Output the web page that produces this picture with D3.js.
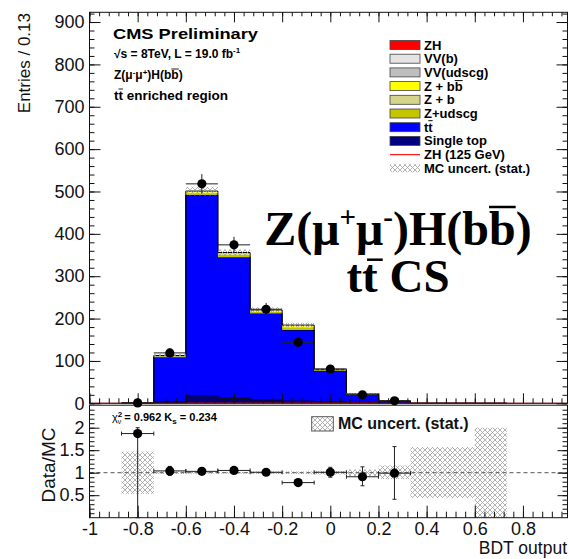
<!DOCTYPE html>
<html>
<head>
<meta charset="utf-8">
<script src="https://cdn.jsdelivr.net/npm/d3@7"></script>
<style>
  body { margin: 0; background: #fff; }
  svg { display: block; font-family: "Liberation Sans", Arial, Helvetica, sans-serif; }
</style>
</head>
<body>
<svg id="chart" width="569" height="559"></svg>
<script>
// bin edges of the BDT output histogram (width 0.13)
const binEdges = [-1, -0.867, -0.733, -0.6, -0.467, -0.333, -0.2, -0.067, 0.067, 0.2, 0.333, 0.467, 0.6, 0.733, 0.867, 1];

// stacked MC, entries per bin
const singleTop = [0, 0.05, 3, 18, 12, 8, 5, 3, 1, 0.2, 0.02, 0.02, 0, 0, 0];
const ttbar     = [0, 0.4, 106, 474, 333, 204, 168, 74, 20, 5.3, 0.15, 0.15, 0.05, 0, 0];
const zUdscg    = [0, 0.04, 2, 4, 5, 3.5, 5, 1.5, 0.5, 0.1, 0, 0, 0, 0, 0];
const zB        = [0, 0.02, 1, 1.5, 2, 1.5, 2.5, 0.8, 0.2, 0.1, 0, 0, 0, 0, 0];
const zBB       = [0, 0.02, 0.5, 2.5, 3, 2.5, 3.5, 0.7, 0.3, 0.1, 0, 0, 0, 0, 0];
const vvUdscg   = [0, 0, 0.2, 0.8, 0.6, 0.4, 0.4, 0.2, 0.1, 0, 0, 0, 0, 0, 0];
const vvB       = [0, 0, 0.05, 0.1, 0.1, 0.1, 0.1, 0.05, 0, 0, 0, 0, 0, 0, 0];
const zhFill    = [0, 0, 0.02, 0.1, 0.15, 0.15, 0.2, 0.1, 0.05, 0, 0, 0, 0, 0, 0];
const zh125     = [0, 0, 0.05, 0.2, 0.3, 0.3, 0.4, 0.2, 0.1, 0.05, 0.02, 0.02, 0.01, 0, 0];

// data
const dataCounts = [null, 1, 119, 518, 374, 222, 144, 81, 20, 6, null, null, null, null, null];
const dataErr    = [null, 1, 11, 23, 19, 15, 12, 9, 4.5, 2.5, null, null, null, null, null];

// ratio panel
const ratioVals  = [null, 1.87, 1.04, 1.03, 1.05, 1.01, 0.78, 1.01, 0.91, 0.99, null, null, null, null, null];
const ratioErrLo = [null, 1.87, 0.10, 0.05, 0.06, 0.07, 0.07, 0.11, 0.20, 0.58, null, null, null, null, null];
const ratioErrHi = [null, 0.13, 0.10, 0.05, 0.06, 0.07, 0.07, 0.11, 0.22, 0.59, null, null, null, null, null];
const mcBandLo   = [null, 0.53, 0.97, 0.98, 0.98, 0.97, 0.97, 0.96, 0.93, 0.86, 0.44, 0.44, 0.0, null, null];
const mcBandHi   = [null, 1.47, 1.03, 1.02, 1.02, 1.03, 1.03, 1.04, 1.07, 1.16, 1.57, 1.57, 2.0, null, null];

// axes
const xDomain = [-1, 0.985];
const xTicks = [-1, -0.8, -0.6, -0.4, -0.2, 0, 0.2, 0.4, 0.6, 0.8];
const xTickLabels = ['-1', '-0.8', '-0.6', '-0.4', '-0.2', '0', '0.2', '0.4', '0.6', '0.8'];
const yTopTicks = [0, 100, 200, 300, 400, 500, 600, 700, 800, 900];
const yRatTicks = [0.5, 1, 1.5, 2];
const yRatLabels = ['0.5', '1', '1.5', '2'];

const legendLabels = ['ZH', 'VV(b)', 'VV(udscg)', 'Z + bb', 'Z + b', 'Z+udscg', 'tt', 'Single top', 'ZH (125 GeV)', 'MC uncert. (stat.)'];

const layerKeys = ['singleTop', 'ttbar', 'zUdscg', 'zB', 'zBB', 'vvUdscg', 'vvB', 'zhFill'];
const layerSeries = { singleTop, ttbar, zUdscg, zB, zBB, vvUdscg, vvB, zhFill };
const colors = {
    singleTop: '#000080', ttbar: '#0000ff', zUdscg: '#c4c400', zB: '#d4d48a',
    zBB: '#ffff00', vvUdscg: '#bebebe', vvB: '#e4e4e4', zhFill: '#ff0000'
};

const svg = d3.select('#chart');
const left = 89.5, right = 567.5;
const x = d3.scaleLinear().domain(xDomain).range([left, right]);
const yTop = d3.scaleLinear().domain([0, 923]).range([403.3, 12.3]);
const yRat = d3.scaleLinear().domain([0, 2.5]).range([517.7, 405.2]);

const defs = svg.append('defs');
const pat = defs.append('pattern').attr('id', 'hatch')
    .attr('patternUnits', 'userSpaceOnUse').attr('width', 5).attr('height', 5);
pat.append('path')
    .attr('d', 'M0,0L5,5M5,0L0,5M-1,4L1,6M4,-1L6,1M-1,1L1,-1M4,6L6,4')
    .attr('stroke', '#a0a0a0').attr('stroke-width', 0.8).attr('fill', 'none');
defs.append('clipPath').attr('id', 'clipTop').append('rect')
    .attr('x', left).attr('y', yTop.range()[1]).attr('width', right - left).attr('height', yTop.range()[0] - yTop.range()[1]);
defs.append('clipPath').attr('id', 'clipRat').append('rect')
    .attr('x', left).attr('y', yRat.range()[1]).attr('width', right - left).attr('height', yRat.range()[0] - yRat.range()[1]);

// ---- upper panel: stacked histograms ----
const table = binEdges.slice(0, -1).map((e, i) => {
    const row = { i, x0: e, x1: binEdges[i + 1] };
    layerKeys.forEach(k => row[k] = layerSeries[k][i]);
    return row;
});
const totals = table.map(r => d3.sum(layerKeys, k => r[k]));
const stacked = d3.stack().keys(layerKeys)(table);

const gTop = svg.append('g').attr('clip-path', 'url(#clipTop)');

function stepPoints(layer) {
    const pts = [];
    layer.forEach((d, i) => {
        if (totals[i] <= 0) return;
        pts.push({ x: d.data.x0, lo: d[0], hi: d[1] });
        pts.push({ x: d.data.x1, lo: d[0], hi: d[1] });
    });
    return pts;
}
const area = d3.area().x(d => x(d.x)).y0(d => yTop(d.lo)).y1(d => yTop(d.hi));

stacked.forEach(layer => {
    gTop.append('path')
        .datum(stepPoints(layer))
        .attr('d', area)
        .attr('fill', colors[layer.key])
        .attr('stroke', layer.key === 'ttbar' ? '#000' : 'none')
        .attr('stroke-width', 1);
});

// outline of the full stack
const topLayer = stacked[stacked.length - 1];
const outline = stepPoints(topLayer);
gTop.append('path')
    .attr('d', d3.line().x(d => x(d.x)).y(d => yTop(d.hi))(
        [{ x: outline[0].x, hi: 0 }, ...outline, { x: outline[outline.length - 1].x, hi: 0 }]))
    .attr('fill', 'none').attr('stroke', '#000').attr('stroke-width', 1);

// MC stat uncertainty on the stack
gTop.append('g').selectAll('rect')
    .data(table.filter(r => mcBandLo[r.i] != null && totals[r.i] > 0))
    .join('rect')
    .attr('x', r => x(r.x0))
    .attr('width', r => x(r.x1) - x(r.x0))
    .attr('y', r => yTop(totals[r.i] * mcBandHi[r.i]))
    .attr('height', r => yTop(totals[r.i] * mcBandLo[r.i]) - yTop(totals[r.i] * mcBandHi[r.i]))
    .attr('fill', 'url(#hatch)');

// ZH (125 GeV) signal line
const zhPts = [];
table.forEach(r => { zhPts.push([r.x0, zh125[r.i]]); zhPts.push([r.x1, zh125[r.i]]); });
gTop.append('path')
    .attr('d', d3.line().x(d => x(d[0])).y(d => yTop(d[1]))(zhPts))
    .attr('fill', 'none').attr('stroke', '#e00000').attr('stroke-width', 1.3);

// ---- ratio panel ----
const gRat = svg.append('g').attr('clip-path', 'url(#clipRat)');
gRat.append('g').selectAll('rect')
    .data(table.filter(r => mcBandLo[r.i] != null))
    .join('rect')
    .attr('x', r => x(r.x0))
    .attr('width', r => x(r.x1) - x(r.x0))
    .attr('y', r => yRat(mcBandHi[r.i]))
    .attr('height', r => yRat(mcBandLo[r.i]) - yRat(mcBandHi[r.i]))
    .attr('fill', 'url(#hatch)');
gRat.append('line')
    .attr('x1', left).attr('x2', right).attr('y1', yRat(1)).attr('y2', yRat(1))
    .attr('stroke', '#555').attr('stroke-width', 1).attr('stroke-dasharray', '4,3');

// ---- axes ----
function addAxis(gen, tx, ty) {
    const g = svg.append('g').attr('transform', `translate(${tx},${ty})`).call(gen);
    g.select('.domain').remove();
    g.attr('font-size', 18).attr('font-family', '"Liberation Sans", Arial, sans-serif');
    g.selectAll('line').attr('stroke', '#111').attr('stroke-width', 1);
    g.selectAll('text').attr('fill', '#111');
    return g;
}
const none = () => '';
const xMinor = d3.range(-1, 0.99, 0.04);
const yTopMinor = d3.range(0, 921, 20);
const yRatMinor = d3.range(0.1, 2.5, 0.1);

// upper panel
addAxis(d3.axisLeft(yTop).tickValues(yTopTicks).tickFormat(d3.format('d')).tickSize(-11).tickPadding(5), left, 0);
addAxis(d3.axisLeft(yTop).tickValues(yTopMinor).tickFormat(none).tickSize(-5), left, 0);
addAxis(d3.axisRight(yTop).tickValues(yTopTicks).tickFormat(none).tickSize(-11), right, 0);
addAxis(d3.axisRight(yTop).tickValues(yTopMinor).tickFormat(none).tickSize(-5), right, 0);
addAxis(d3.axisTop(x).tickValues(xTicks).tickFormat(none).tickSize(-10), 0, yTop.range()[1]);
addAxis(d3.axisTop(x).tickValues(xMinor).tickFormat(none).tickSize(-4), 0, yTop.range()[1]);
addAxis(d3.axisBottom(x).tickValues(xTicks).tickFormat(none).tickSize(-10), 0, yTop.range()[0]);
addAxis(d3.axisBottom(x).tickValues(xMinor).tickFormat(none).tickSize(-5), 0, yTop.range()[0]);

// ratio panel
addAxis(d3.axisLeft(yRat).tickValues(yRatTicks).tickFormat((d, i) => yRatLabels[i]).tickSize(-10).tickPadding(5), left, 0);
addAxis(d3.axisLeft(yRat).tickValues(yRatMinor).tickFormat(none).tickSize(-5), left, 0);
addAxis(d3.axisRight(yRat).tickValues(yRatTicks).tickFormat(none).tickSize(-10), right, 0);
addAxis(d3.axisRight(yRat).tickValues(yRatMinor).tickFormat(none).tickSize(-5), right, 0);
addAxis(d3.axisBottom(x).tickValues(xTicks).tickFormat((d, i) => xTickLabels[i]).tickSize(-12).tickPadding(4.5), 0, yRat.range()[0]);
addAxis(d3.axisBottom(x).tickValues(xMinor).tickFormat(none).tickSize(-6), 0, yRat.range()[0]);

// frames
svg.append('rect').attr('x', left).attr('y', yTop.range()[1])
    .attr('width', right - left).attr('height', yTop.range()[0] - yTop.range()[1])
    .attr('fill', 'none').attr('stroke', '#111').attr('stroke-width', 1);
svg.append('rect').attr('x', left).attr('y', yRat.range()[1])
    .attr('width', right - left).attr('height', yRat.range()[0] - yRat.range()[1])
    .attr('fill', 'none').attr('stroke', '#111').attr('stroke-width', 1);

// ---- data points ----
const dataPts = table.filter(r => dataCounts[r.i] != null);
const gData = svg.append('g');
dataPts.forEach(r => {
    const cx = x((r.x0 + r.x1) / 2), cy = yTop(dataCounts[r.i]);
    gData.append('line').attr('x1', x(r.x0)).attr('x2', x(r.x1)).attr('y1', cy).attr('y2', cy)
        .attr('stroke', '#222').attr('stroke-width', 1);
    gData.append('line').attr('x1', cx).attr('x2', cx)
        .attr('y1', yTop(dataCounts[r.i] - dataErr[r.i])).attr('y2', yTop(dataCounts[r.i] + dataErr[r.i]))
        .attr('stroke', '#222').attr('stroke-width', 1);
    gData.append('circle').attr('cx', cx).attr('cy', cy).attr('r', 4.6).attr('fill', '#000');
});

const ratPts = table.filter(r => ratioVals[r.i] != null);
ratPts.forEach(r => {
    const cx = x((r.x0 + r.x1) / 2), cy = yRat(ratioVals[r.i]);
    const yl = yRat(ratioVals[r.i] - ratioErrLo[r.i]), yh = yRat(ratioVals[r.i] + ratioErrHi[r.i]);
    gData.append('line').attr('x1', x(r.x0)).attr('x2', x(r.x1)).attr('y1', cy).attr('y2', cy)
        .attr('stroke', '#222').attr('stroke-width', 1);
    [x(r.x0), x(r.x1)].forEach(ex => gData.append('line').attr('x1', ex).attr('x2', ex)
        .attr('y1', cy - 2).attr('y2', cy + 2).attr('stroke', '#222'));
    gData.append('line').attr('x1', cx).attr('x2', cx).attr('y1', yl).attr('y2', yh)
        .attr('stroke', '#222').attr('stroke-width', 1);
    [yl, yh].forEach(ey => gData.append('line').attr('x1', cx - 2).attr('x2', cx + 2)
        .attr('y1', ey).attr('y2', ey).attr('stroke', '#222'));
    gData.append('circle').attr('cx', cx).attr('cy', cy).attr('r', 4.6).attr('fill', '#000');
});

// ---- texts ----
function overline(textSel, idx, up, shift, size) {
    const node = textSel.node();
    const ext = node.getExtentOfChar(idx);
    const base = +textSel.attr('y');
    svg.append('line')
        .attr('x1', ext.x + (shift || 0)).attr('x2', ext.x + ext.width + (shift || 0))
        .attr('y1', base - up).attr('y2', base - up)
        .attr('stroke', '#000').attr('stroke-width', size || 1);
}

svg.append('text').attr('x', 113).attr('y', 38.5).attr('font-size', 14).attr('font-weight', 'bold')
    .attr('textLength', 145).attr('lengthAdjust', 'spacingAndGlyphs').text('CMS Preliminary');
const t2 = svg.append('text').attr('x', 114).attr('y', 58).attr('font-size', 12).attr('font-weight', 'bold');
t2.append('tspan').text('\u221As = 8TeV, L = 19.0 fb');
t2.append('tspan').attr('font-size', 8).attr('dy', -5).text('-1');
const t3 = svg.append('text').attr('x', 114).attr('y', 79).attr('font-size', 12).attr('font-weight', 'bold');
t3.append('tspan').text('Z(\u03BC');
t3.append('tspan').attr('font-size', 8).attr('dy', -4).text('-');
t3.append('tspan').attr('dy', 4).text('\u03BC');
t3.append('tspan').attr('font-size', 8).attr('dy', -4).text('+');
t3.append('tspan').attr('dy', 4).text(')H(bb)');
overline(t3, 10, 10, 0, 0.9);
const t4 = svg.append('text').attr('x', 114).attr('y', 100).attr('font-size', 13.5).attr('font-weight', 'bold')
    .text('tt enriched region');
overline(t4, 1, 11, 0, 0.9);

// big label
const serif = '"Liberation Serif", "Times New Roman", serif';
const big1 = svg.append('text').attr('x', 398).attr('y', 245).attr('text-anchor', 'middle')
    .attr('font-family', serif).attr('font-weight', 'bold').attr('font-size', 48);
big1.append('tspan').text('Z(\u03BC');
big1.append('tspan').attr('font-size', 29).attr('dy', -18).text('+');
big1.append('tspan').attr('dy', 18).text('\u03BC');
big1.append('tspan').attr('font-size', 29).attr('dy', -18).text('-');
big1.append('tspan').attr('dy', 18).text(')H(bb)');
overline(big1, 10, 38, 0, 2.5);
const big2 = svg.append('text').attr('x', 398).attr('y', 291.7).attr('text-anchor', 'middle')
    .attr('font-family', serif).attr('font-weight', 'bold').attr('font-size', 47)
    .text('tt CS');
overline(big2, 1, 32, 5, 2.5);

// legend
const legY0 = 45, legStep = 13.7;
const gLeg = svg.append('g');
legendLabels.forEach((lab, i) => {
    const cy = legY0 + i * legStep;
    if (i < 8) {
        gLeg.append('rect').attr('x', 390).attr('y', cy - 4.5).attr('width', 30).attr('height', 9)
            .attr('fill', colors[layerKeys[7 - i]]).attr('stroke', '#444').attr('stroke-width', 0.8);
    } else if (i === 8) {
        gLeg.append('line').attr('x1', 390).attr('x2', 420).attr('y1', cy).attr('y2', cy)
            .attr('stroke', '#ff2020').attr('stroke-width', 1.3);
    } else {
        gLeg.append('rect').attr('x', 390).attr('y', cy - 4).attr('width', 30).attr('height', 8)
            .attr('fill', 'url(#hatch)');
    }
    const t = gLeg.append('text').attr('x', 424).attr('y', cy + 4.5).attr('font-size', 13).attr('font-weight', 'bold').text(lab);
    if (lab === 'Z + bb') overline(t, 5, 10, 0, 1);
    if (lab === 'tt') overline(t, 1, 11, 0, 1);
});

// axis titles
svg.append('text').attr('transform', 'translate(30,13) rotate(-90)').attr('text-anchor', 'end')
    .attr('font-size', 17).attr('fill', '#111').text('Entries / 0.13');
svg.append('text').attr('transform', 'translate(55,465) rotate(-90)').attr('text-anchor', 'middle')
    .attr('font-size', 19).attr('fill', '#111').text('Data/MC');
svg.append('text').attr('x', 567).attr('y', 553.5).attr('text-anchor', 'end')
    .attr('font-size', 17.5).attr('fill', '#111').text('BDT output');

// ratio panel texts
const chi = svg.append('text').attr('x', 112).attr('y', 420.5).attr('font-size', 11).attr('font-weight', 'bold');
chi.append('tspan').attr('font-weight', 'normal').text('\u03C7');
chi.append('tspan').attr('font-size', 8).attr('dy', -4).text('2');
chi.append('tspan').attr('font-size', 7).attr('dx', -4.5).attr('dy', 7).attr('font-weight', 'normal').text('\u03BD');
chi.append('tspan').attr('dy', -3).text(' = 0.962 K');
chi.append('tspan').attr('font-size', 8).attr('dy', 3).text('s');
chi.append('tspan').attr('dy', -3).text(' = 0.234');

svg.append('rect').attr('x', 311.7).attr('y', 416.7).attr('width', 21.6).attr('height', 14.3)
    .attr('fill', 'url(#hatch)').attr('stroke', '#555').attr('stroke-width', 1);
svg.append('text').attr('x', 338).attr('y', 428.5).attr('font-size', 16).attr('font-weight', 'bold')
    .attr('fill', '#111').text('MC uncert. (stat.)');
</script>
</body>
</html>
